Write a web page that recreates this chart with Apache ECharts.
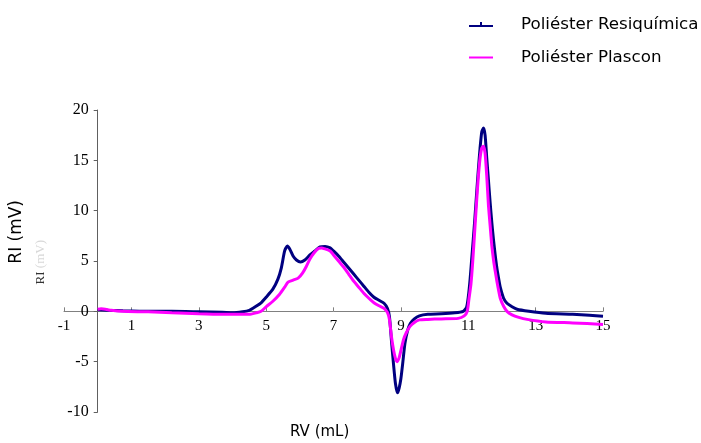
<!DOCTYPE html>
<html>
<head>
<meta charset="utf-8" />
<title></title>
<script src="https://cdn.jsdelivr.net/npm/echarts@6/dist/echarts.min.js"></script>
<style type="text/css">
	html, body { margin: 0; padding: 0; background: #fff; }
	#main { width: 701px; height: 443px; }
</style>
</head>
<body>
<div id="main"></div>
<script type="text/javascript">
var rvResiq = [0.0, 0.3, 0.75, 1.5, 2.2, 3.0, 3.7, 4.0, 4.3, 4.5, 4.7, 4.85, 5.0, 5.2, 5.35, 5.45, 5.55, 5.63, 5.7, 5.8,
	5.9, 6.02, 6.15, 6.3, 6.45, 6.6, 6.75, 6.9, 7.0, 7.15, 7.3, 7.45, 7.6, 7.75, 7.9, 8.05, 8.2, 8.35, 8.5, 8.6,
	8.66, 8.72, 8.78, 8.84, 8.9, 8.95, 9.0, 9.06, 9.12, 9.2, 9.28, 9.4, 9.55, 9.8, 10.2, 10.6, 10.85, 10.95, 11.0, 11.05,
	11.1, 11.15, 11.2, 11.25, 11.3, 11.35, 11.4, 11.45, 11.5, 11.55, 11.6, 11.65, 11.7, 11.75, 11.8, 11.85, 11.9, 11.95, 12.05, 12.15,
	12.3, 12.45, 12.8, 13.3, 14.1, 14.6, 15.0];
var riResiq = [0.15, 0.1, 0.05, 0.0, 0.0, -0.05, -0.1, -0.15, -0.05, 0.1, 0.5, 0.85, 1.4, 2.2, 3.2, 4.3, 6.0, 6.5, 6.2, 5.5,
	5.1, 4.9, 5.1, 5.6, 6.0, 6.4, 6.45, 6.3, 6.0, 5.5, 4.9, 4.3, 3.7, 3.1, 2.5, 1.9, 1.4, 1.1, 0.8, 0.3,
	-0.5, -2.9, -5.2, -7.2, -8.1, -7.6, -6.7, -5.0, -3.2, -1.9, -1.2, -0.75, -0.45, -0.3, -0.25, -0.15, 0.0, 0.4, 1.4, 3.0,
	5.1, 7.2, 9.4, 11.8, 14.1, 16.2, 17.8, 18.2, 17.5, 15.2, 13.0, 10.8, 8.8, 7.1, 5.6, 4.3, 3.3, 2.4, 1.3, 0.8,
	0.45, 0.2, 0.0, -0.2, -0.3, -0.4, -0.5];

var rvPlascon = [0.0, 0.1, 0.4, 0.75, 1.5, 2.2, 3.0, 3.7, 4.2, 4.5, 4.7, 4.85, 5.0, 5.2, 5.4, 5.55, 5.65, 5.8, 5.95, 6.08,
	6.2, 6.3, 6.42, 6.55, 6.65, 6.75, 6.9, 7.0, 7.15, 7.3, 7.45, 7.6, 7.75, 7.9, 8.05, 8.2, 8.35, 8.5, 8.6, 8.66,
	8.72, 8.78, 8.84, 8.89, 8.95, 9.0, 9.08, 9.15, 9.27, 9.4, 9.55, 9.8, 10.2, 10.7, 10.88, 10.97, 11.02, 11.08, 11.13, 11.2,
	11.25, 11.3, 11.35, 11.4, 11.45, 11.5, 11.55, 11.6, 11.65, 11.7, 11.75, 11.8, 11.85, 11.9, 11.95, 12.05, 12.15, 12.3, 12.5, 12.75,
	13.3, 14.1, 15.0];
var riPlascon = [0.2, 0.25, 0.1, 0.0, -0.05, -0.15, -0.25, -0.3, -0.3, -0.3, -0.15, 0.0, 0.45, 1.0, 1.7, 2.4, 2.9, 3.1, 3.3, 3.8,
	4.5, 5.2, 5.8, 6.25, 6.3, 6.2, 6.0, 5.6, 5.0, 4.4, 3.7, 3.0, 2.4, 1.8, 1.3, 0.85, 0.55, 0.3, -0.1, -0.8,
	-2.5, -3.8, -4.7, -5.0, -4.6, -3.9, -2.8, -2.2, -1.5, -1.1, -0.85, -0.8, -0.75, -0.7, -0.45, 0.0, 1.2, 2.7, 4.8, 8.4,
	11.0, 13.4, 15.2, 16.2, 16.4, 15.7, 13.4, 10.5, 8.5, 6.5, 5.1, 4.0, 3.0, 2.1, 1.3, 0.5, 0.0, -0.35, -0.6, -0.8,
	-1.05, -1.15, -1.3];

var seriesNames = ['Poliéster Resiquímica', 'Poliéster Plascon'];

function pares(xs, ys) {
	var out = [];
	for (var i = 0; i < xs.length; i++) out.push([xs[i], ys[i]]);
	return out;
}

var myChart = echarts.init(document.getElementById('main'), null, { renderer: 'canvas' });
var serif = 'Liberation Serif';
var sans = 'DejaVu Sans';

// ejes cruzando en el origen: se desplazan desde el borde de la rejilla
var gridW = 701 - 64 - 98, gridH = 443 - 110 - 31;
var xOff = -gridH * 10 / 30;   // y=0 dentro del rango -10..20
var yOff = -gridW * 1 / 16;    // x=0 dentro del rango -1..15

var option = {
	animation: false,
	grid: { left: 64, right: 98, top: 110, bottom: 31 },
	legend: {
		orient: 'vertical',
		left: 469,
		top: 16,
		padding: 0,
		itemWidth: 24,
		itemHeight: 6,
		itemGap: 16,
		textStyle: { fontFamily: sans, fontSize: 16.7, color: '#000', padding: [0, 0, 0, 23] },
		data: [
			{ name: seriesNames[0], icon: 'path://M0,3h24v2h-24z M11,0h2v3h-2z' },
			{ name: seriesNames[1], icon: 'path://M0,2h24v2h-24z' }
		]
	},
	xAxis: {
		type: 'value',
		position: 'bottom',
		offset: xOff,
		min: -1,
		max: 15,
		interval: 2,
		splitLine: { show: false },
		axisLine: { onZero: false, lineStyle: { color: '#808080', width: 1 } },
		axisTick: { inside: true, length: 4, lineStyle: { color: '#808080' } },
		axisLabel: { fontFamily: serif, fontSize: 15, color: '#000', margin: 7 }
	},
	yAxis: {
		type: 'value',
		position: 'left',
		offset: yOff,
		min: -10,
		max: 20,
		interval: 5,
		splitLine: { show: false },
		axisLine: { onZero: false, lineStyle: { color: '#606060', width: 1 } },
		axisTick: { length: 4, lineStyle: { color: '#606060' } },
		axisLabel: { fontFamily: serif, fontSize: 16, color: '#000', margin: 9 }
	},
	graphic: [
		{
			type: 'text', left: 8, top: 200, rotation: Math.PI / 2,
			style: { text: 'RI (mV)', fontFamily: sans, fontSize: 17, fill: '#000' }
		},
		{
			type: 'text', left: 34, top: 240, rotation: Math.PI / 2,
			style: {
				text: '{a|RI} {b|(mV)}',
				rich: {
					a: { fontFamily: serif, fontSize: 13, fill: '#333' },
					b: { fontFamily: serif, fontSize: 13, fill: '#d8d8d8' }
				}
			}
		},
		{
			type: 'text', left: 290, top: 425,
			style: { text: 'RV (mL)', fontFamily: sans, fontSize: 15, fill: '#000' }
		}
	],
	series: [
		{
			name: seriesNames[0],
			type: 'line',
			data: pares(rvResiq, riResiq),
			showSymbol: false,
			smooth: 0.2,
			itemStyle: { color: '#000080' },
			lineStyle: { color: '#000080', width: 3 }
		},
		{
			name: seriesNames[1],
			type: 'line',
			data: pares(rvPlascon, riPlascon),
			showSymbol: false,
			smooth: 0.2,
			itemStyle: { color: '#ff00ff' },
			lineStyle: { color: '#ff00ff', width: 3 }
		}
	]
};
myChart.setOption(option);
</script>
</body>
</html>
